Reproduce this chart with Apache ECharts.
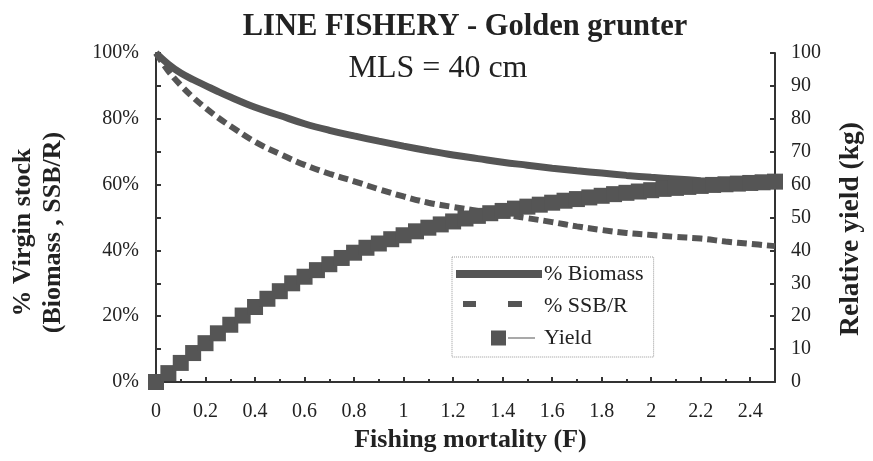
<!DOCTYPE html>
<html>
<head>
<meta charset="utf-8">
<script src="https://cdn.jsdelivr.net/npm/echarts@6/dist/echarts.min.js"></script>
<style>
html,body{margin:0;padding:0;background:#fff;}
#chart{width:873px;height:461px;}
</style>
</head>
<body>
<div id="chart"></div>
<script>
// Fishing mortality values (x) for the curves
const curveF = [0, 0.05, 0.1, 0.15, 0.2, 0.25, 0.3, 0.4, 0.5, 0.6, 0.7, 0.8, 0.9, 1.0, 1.1, 1.2, 1.3, 1.4, 1.5, 1.6, 1.7, 1.8, 1.9, 2.0, 2.1, 2.2, 2.3, 2.4, 2.5];
// % Biomass (of virgin stock)
const biomass = [100, 96.6, 93.9, 91.9, 90.1, 88.3, 86.6, 83.5, 81, 78.5, 76.5, 74.8, 73.2, 71.7, 70.3, 69, 67.9, 66.8, 65.9, 65, 64.2, 63.5, 62.8, 62.2, 61.7, 61.2, 60.8, 60.4, 60];
// % SSB/R (of virgin stock)
const ssbr = [100, 94.5, 90.2, 86.5, 83.3, 80.4, 77.8, 73, 69.3, 66, 63.3, 61, 58.6, 56.4, 54.5, 53.2, 52, 50.9, 49.8, 48.6, 47.3, 46.2, 45.3, 44.7, 44.1, 43.6, 42.7, 42, 41.3];
// Fishing mortality values for yield points
const yieldF = [0, 0.05, 0.1, 0.15, 0.2, 0.25, 0.3, 0.35, 0.4, 0.45, 0.5, 0.55, 0.6, 0.65, 0.7, 0.75, 0.8, 0.85, 0.9, 0.95, 1.0, 1.05, 1.1, 1.15, 1.2, 1.25, 1.3, 1.35, 1.4, 1.45, 1.5, 1.55, 1.6, 1.65, 1.7, 1.75, 1.8, 1.85, 1.9, 1.95, 2.0, 2.05, 2.1, 2.15, 2.2, 2.25, 2.3, 2.35, 2.4, 2.45, 2.5];
// Relative yield (kg)
const yieldKg = [0, 2.7, 5.8, 8.8, 11.8, 14.8, 17.4, 20.2, 22.8, 25.3, 27.6, 30, 32, 34, 35.8, 37.7, 39.3, 40.8, 42.1, 43.4, 44.6, 45.8, 46.9, 47.9, 48.8, 49.7, 50.5, 51.3, 52, 52.7, 53.3, 53.9, 54.5, 55.1, 55.6, 56.1, 56.6, 57.1, 57.5, 57.9, 58.3, 58.7, 59.0, 59.3, 59.6, 59.9, 60.1, 60.3, 60.5, 60.7, 60.9];

const seriesNames = ['% Biomass', '% SSB/R', 'Yield'];
const titleText = 'LINE FISHERY - Golden grunter';
const subTitleText = 'MLS = 40 cm';
const xName = 'Fishing mortality (F)';
const yLeftName = '% Virgin stock\n(Biomass , SSB/R)';
const yRightName = 'Relative yield (kg)';

const serif = '"Liberation Serif", "Times New Roman", serif';
const ink = '#222';
const markColor = '#555';

const zip = (xs, ys) => xs.map((x, i) => [x, ys[i]]);

const chart = echarts.init(document.getElementById('chart'));
chart.setOption({
  animation: false,
  backgroundColor: '#fff',
  title: [
    { text: titleText, left: 460, top: 7, textAlign: 'center',
      textStyle: { fontFamily: serif, fontWeight: 'bold', fontSize: 30.5, color: ink } },
    { text: subTitleText, left: 433, top: 48, textAlign: 'center',
      textStyle: { fontFamily: serif, fontWeight: 'normal', fontSize: 32, color: ink } }
  ],
  grid: { left: 152, right: 96, top: 53, bottom: 79, containLabel: false },
  legend: {
    orient: 'vertical',
    left: 452, top: 257,
    padding: [6, 10, 8, 4],
    itemWidth: 86, itemHeight: 16, itemGap: 10,
    backgroundColor: '#fff',
    borderColor: '#999', borderWidth: 1, borderType: 'dotted',
    itemStyle: { borderWidth: 0 },
    textStyle: { fontFamily: serif, fontSize: 22, color: ink, padding: [0, 0, 0, -3] },
    data: [
      { name: seriesNames[0], icon: 'path://M0 0M0 4L86 4L86 12L0 12ZM86 16' },
      { name: seriesNames[1], icon: 'path://M0 0M7 3L20 3L20 9L7 9ZM52 3L66 3L66 9L52 9ZM86 16' },
      { name: seriesNames[2], icon: 'path://M0 0M35 0.5L50 0.5L50 15.5L35 15.5ZM52 7.6L79 7.6L79 8.4L52 8.4ZM86 16' }
    ]
  },
  xAxis: {
    type: 'value', min: 0, max: 2.5, interval: 0.2,
    name: xName, nameLocation: 'middle', nameGap: 44,
    nameTextStyle: { fontFamily: serif, fontWeight: 'bold', fontSize: 26, color: ink, padding: [0, 0, 0, 10] },
    axisLine: { show: true, lineStyle: { color: '#333', width: 2 } },
    axisTick: { show: true, inside: true, length: 5, lineStyle: { color: '#333', width: 2 } },
    minorTick: { show: true, splitNumber: 2, length: 3, lineStyle: { color: '#333', width: 2 } },
    axisLabel: { fontFamily: serif, fontSize: 20, color: ink, margin: 20, showMaxLabel: false },
    splitLine: { show: false }
  },
  yAxis: [
    {
      type: 'value', min: 0, max: 100, interval: 20, position: 'left',
      name: yLeftName, nameLocation: 'middle', nameRotate: 90, nameGap: 88,
      nameTextStyle: { fontFamily: serif, fontWeight: 'bold', fontSize: 26, lineHeight: 30, color: ink, align: 'center', padding: [0, 30, 0, 0] },
      axisLine: { show: true, lineStyle: { color: '#333', width: 2 } },
      axisTick: { show: true, inside: true, length: 5, lineStyle: { color: '#333', width: 2 } },
      minorTick: { show: true, splitNumber: 2, length: 5, lineStyle: { color: '#333', width: 2 } },
      axisLabel: { fontFamily: serif, fontSize: 20, color: ink, margin: 17, formatter: '{value}%' },
      splitLine: { show: false }
    },
    {
      type: 'value', min: 0, max: 100, interval: 10, position: 'right',
      name: yRightName, nameLocation: 'middle', nameRotate: 90, nameGap: 62,
      nameTextStyle: { fontFamily: serif, fontWeight: 'bold', fontSize: 27.5, color: ink, padding: [0, 23, 0, 0] },
      axisLine: { show: true, lineStyle: { color: '#333', width: 2 } },
      axisTick: { show: true, inside: true, length: 5, lineStyle: { color: '#333', width: 2 } },
      axisLabel: { fontFamily: serif, fontSize: 20, color: ink, margin: 16 },
      splitLine: { show: false }
    }
  ],
  series: [
    {
      name: seriesNames[0], type: 'line', yAxisIndex: 0,
      data: zip(curveF, biomass), smooth: 0.4, symbol: 'none',
      color: markColor,
      lineStyle: { color: markColor, width: 7 }
    },
    {
      name: seriesNames[1], type: 'line', yAxisIndex: 0,
      data: zip(curveF, ssbr), smooth: 0.4, symbol: 'none',
      color: markColor,
      lineStyle: { color: markColor, width: 6, type: [10, 5], cap: 'butt' }
    },
    {
      name: seriesNames[2], type: 'line', yAxisIndex: 1,
      data: zip(yieldF, yieldKg), symbol: 'rect', symbolSize: 16, showAllSymbol: true,
      color: markColor,
      itemStyle: { color: markColor, borderWidth: 0 },
      lineStyle: { color: '#aaa', width: 1, type: 'dotted' },
      z: 3
    }
  ]
});
</script>
</body>
</html>
